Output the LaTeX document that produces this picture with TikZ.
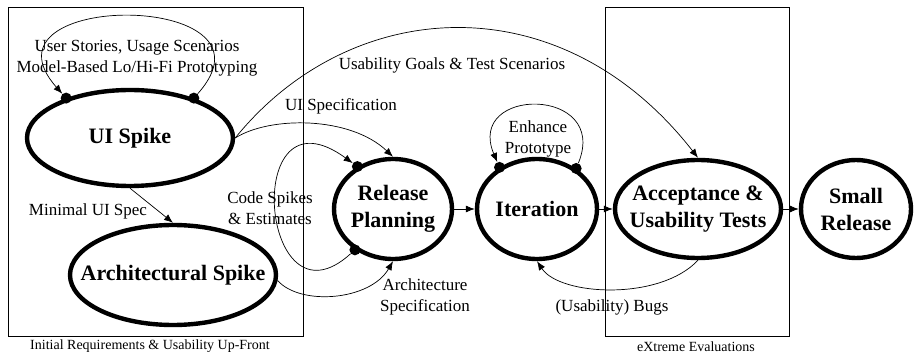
\documentclass[tikz,border=0pt]{standalone}
\usepackage{fontspec}
\setmainfont{Liberation Serif}
\usetikzlibrary{arrows.meta, shapes}

\begin{document}
\begin{tikzpicture}[x=1pt, y=1pt, >={Latex[length=9pt,width=7pt]}, line width=0.7pt,
        phase/.style={ellipse, draw, line width=4.4pt, inner sep=0pt},
        phasetext/.style={align=center, inner sep=0pt, font=\fontsize{22}{27}\selectfont\bfseries},
        dot/.style={circle, fill, inner sep=0pt, minimum size=11pt},
        lbl/.style={align=center, inner sep=0pt, font=\fontsize{17}{21}\selectfont},
        caption/.style={inner sep=0pt, font=\fontsize{14}{17}\selectfont}]
        \useasboundingbox (0,0) rectangle (917,356);

        % phase boxes
        \draw[line width=1pt] (8,20) rectangle (303,348);
        \draw[line width=1pt] (605,20) rectangle (789,348);
        \node[caption] (upfront) at (150,10) {Initial Requirements \& Usability Up-Front};
        \node[caption] (extreme) at (696,9) {eXtreme Evaluations};

        \node[phase, minimum width=206pt, minimum height=96pt, label={[phasetext]center:UI Spike}] (ui) at (130,218) {};
        \node[phase, minimum width=206pt, minimum height=100pt, label={[phasetext]center:Architectural Spike}] (as) at (173,81) {};
        \node[phase, minimum width=118pt, minimum height=100pt, label={[phasetext]center:Release\\Planning}] (rp) at (393,147) {};
        \node[phase, minimum width=120pt, minimum height=100pt, label={[phasetext]center:Iteration}] (it) at (537,147) {};
        \node[phase, minimum width=166pt, minimum height=98pt, label={[phasetext]center:Acceptance \&\\Usability Tests}] (at) at (698,147) {};
        \node[phase, minimum width=110pt, minimum height=98pt, label={[phasetext]center:Small\\Release}] (sr) at (856,147) {};

        \node[dot] (uiA) at (ui.148) {};
        \node[dot] (uiB) at (ui.32) {};
        \node[dot] (rpA) at (rp.130) {};
        \node[dot] (rpB) at (rp.227) {};
        \node[dot] (itA) at (it.132) {};
        \node[dot] (itB) at (it.46) {};

        \node[lbl] (stories) at (137,298) {User Stories, Usage Scenarios\\Model-Based Lo/Hi-Fi Prototyping};
        \node[lbl] (minspec) at (88,145) {Minimal UI Spec};
        \node[lbl] (uispec) at (341,250) {UI Specification};
        \node[lbl] (goals) at (452,291) {Usability Goals \& Test Scenarios};
        \node[lbl] (codespikes) at (270,148) {Code Spikes\\\& Estimates};
        \node[lbl] (archspec) at (425,59) {Architecture\\Specification};
        \node[lbl] (enhance) at (538,217) {Enhance\\Prototype};
        \node[lbl] (bugs) at (612,49) {(Usability) Bugs};

        % loops
        \draw[->] (uiB) .. controls (290,366) and (-30,366) .. (uiA);
        \draw[->] (rpB) .. controls (260,20) and (240,275) .. (rpA);
        \draw[->] (itB) .. controls (610,270) and (465,270) .. (itA);

        \draw[->] (ui.south) -- (as.north);
        \draw[->] (ui.east) .. controls (270,240) and (350,240) .. (rp.north);
        \draw[->] (ui.east) .. controls (350,360) and (560,375) .. (at.north);
        \draw[->] (as.-3) .. controls (300,50) and (370,55) .. (rp.south);
        \draw[->] (at.south) .. controls (660,55) and (560,60) .. (it.south);
        \draw[->] (rp) -- (it);
        \draw[->] (it) -- (at);
        \draw[->] (at) -- (sr);
\end{tikzpicture}
\end{document}
